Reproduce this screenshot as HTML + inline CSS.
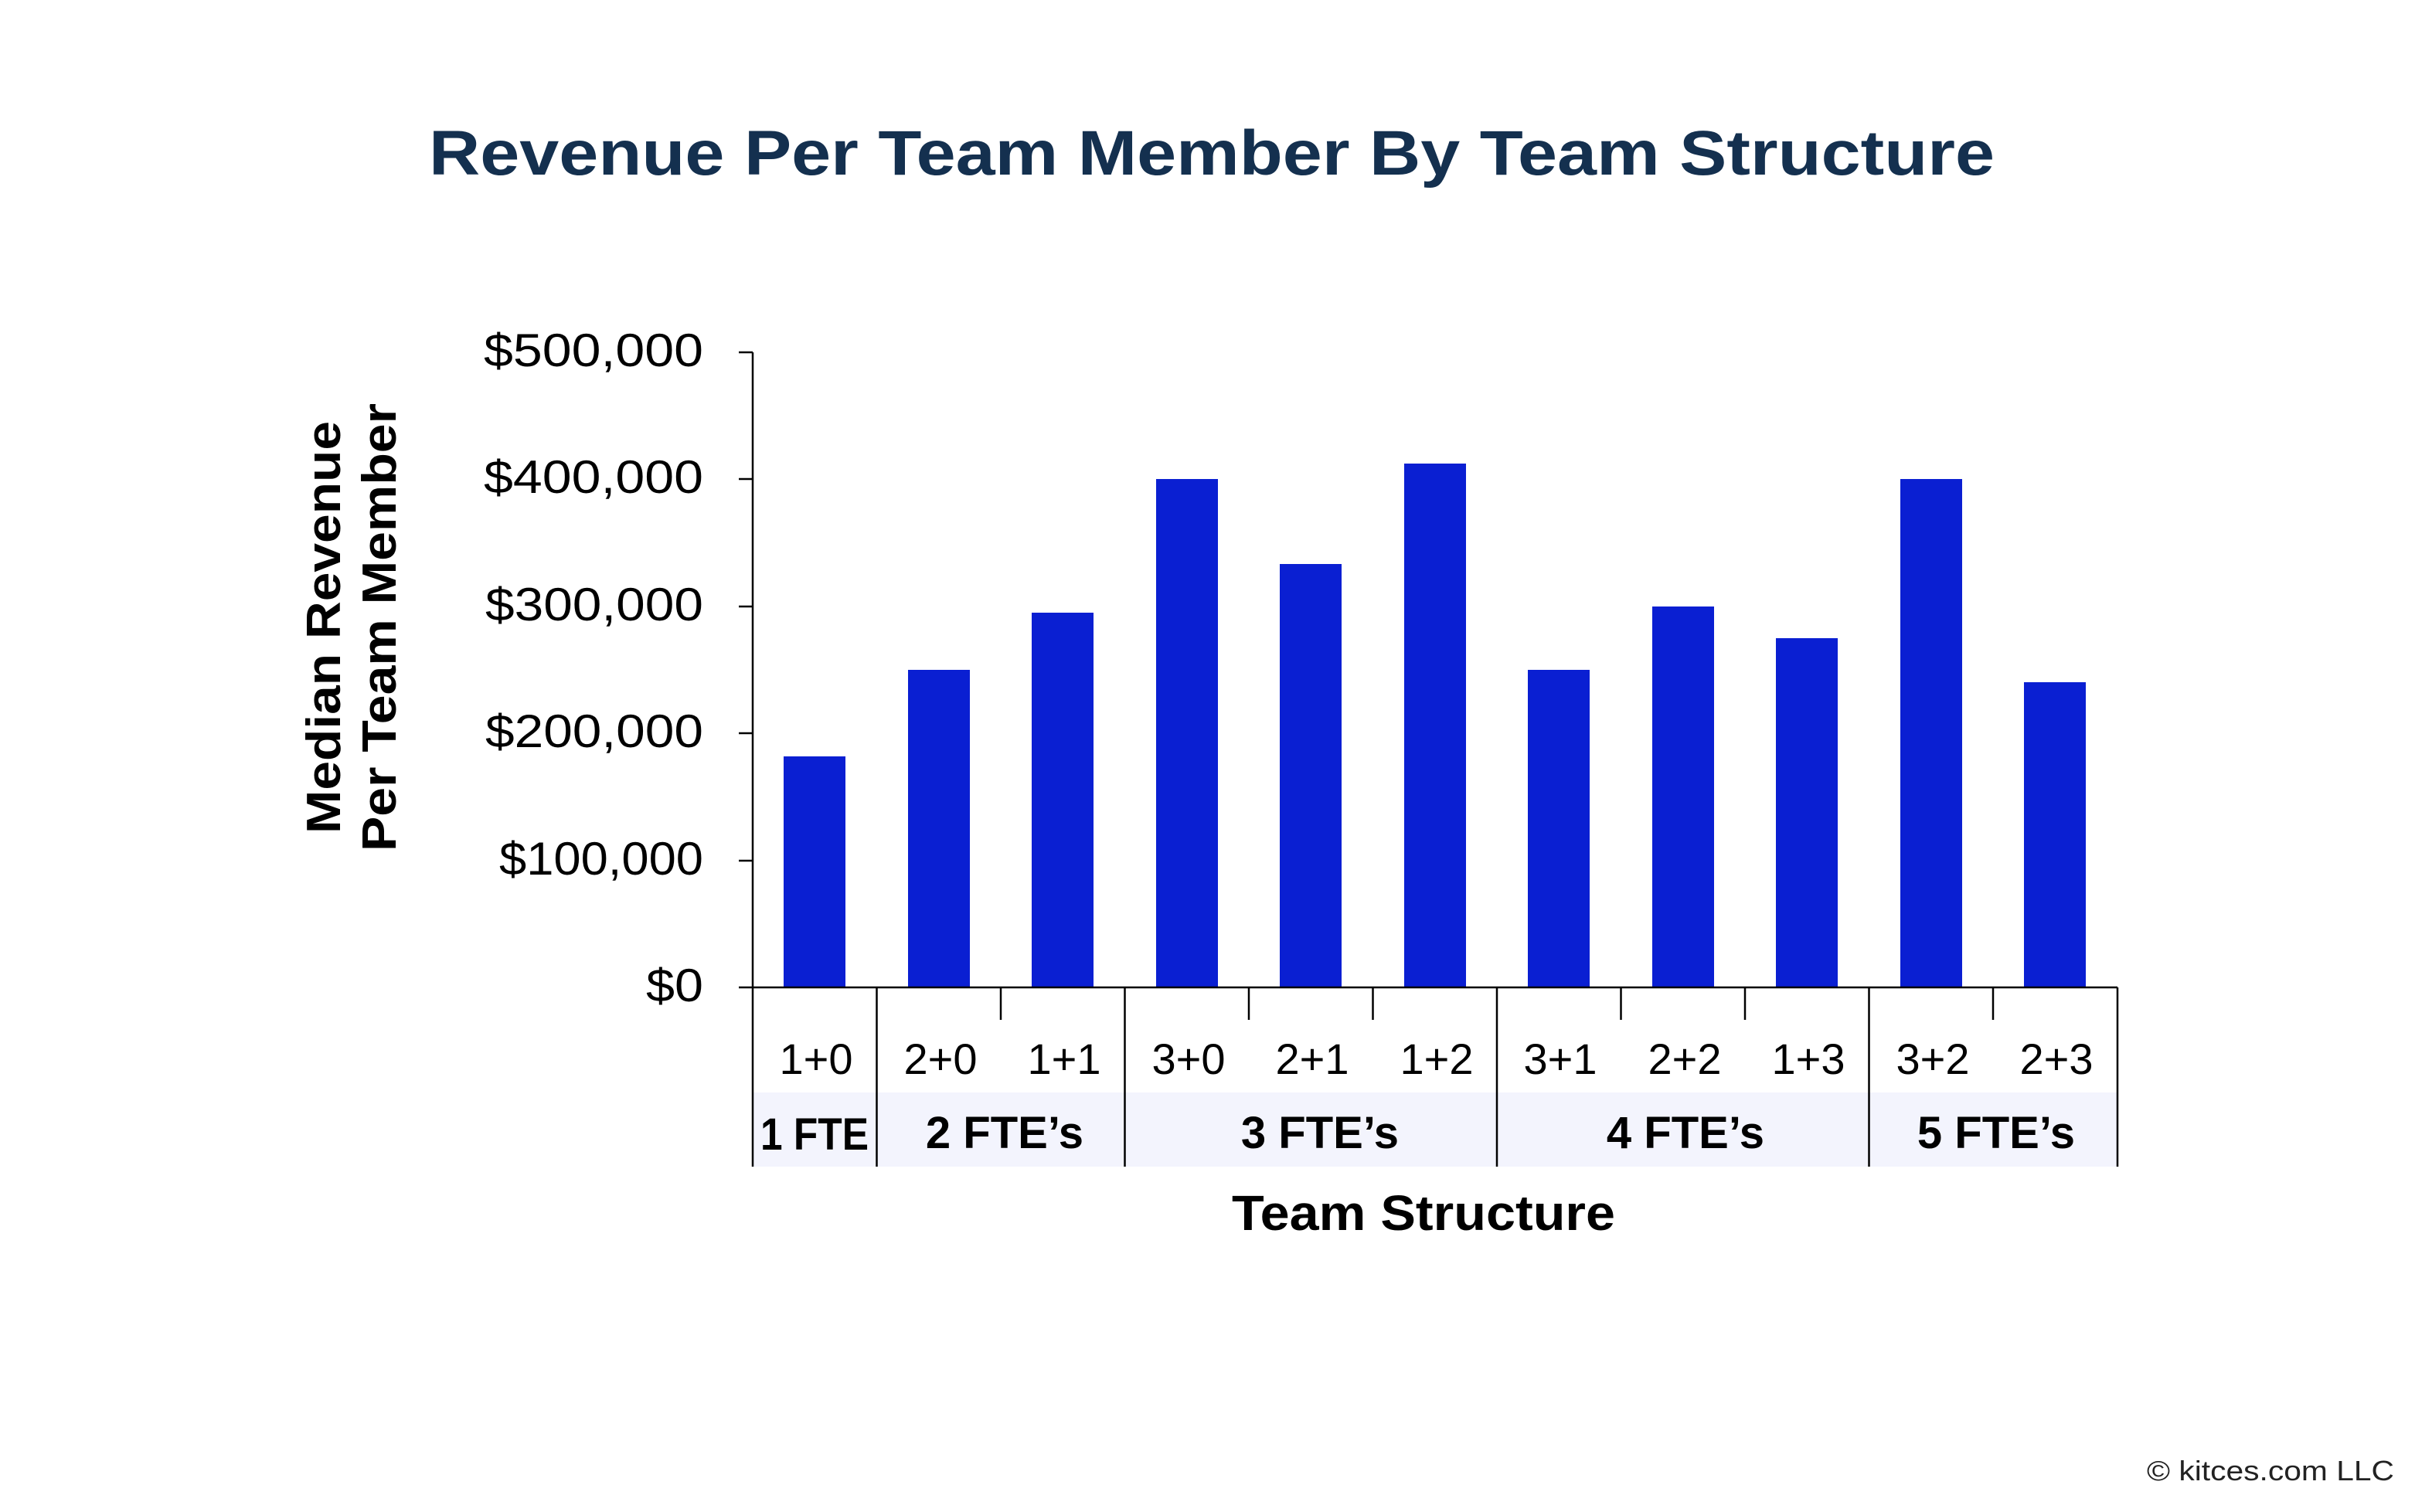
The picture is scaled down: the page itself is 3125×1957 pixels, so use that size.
<!DOCTYPE html>
<html><head><meta charset="utf-8"><style>
html,body{margin:0;padding:0;background:#fff}
svg{display:block}
</style></head><body>
<svg width="3125" height="1957" viewBox="0 0 3125 1957" xmlns="http://www.w3.org/2000/svg" font-family="Liberation Sans, sans-serif">
<rect width="3125" height="1957" fill="#fff"/>
<text x="1568" y="226" text-anchor="middle" font-size="82" fill="#14304f" font-weight="bold" textLength="2026" lengthAdjust="spacingAndGlyphs">Revenue Per Team Member By Team Structure</text>
<rect x="974" y="1414" width="1766" height="96" fill="#f3f4fd"/>
<g fill="#0a1fd2">
<rect x="1014" y="979" width="80" height="299"/>
<rect x="1175" y="867" width="80" height="411"/>
<rect x="1335" y="793" width="80" height="485"/>
<rect x="1496" y="620" width="80" height="658"/>
<rect x="1656" y="730" width="80" height="548"/>
<rect x="1817" y="600" width="80" height="678"/>
<rect x="1977" y="867" width="80" height="411"/>
<rect x="2138" y="785" width="80" height="493"/>
<rect x="2298" y="826" width="80" height="452"/>
<rect x="2459" y="620" width="80" height="658"/>
<rect x="2619" y="883" width="80" height="395"/>
</g>
<g stroke="#000" stroke-width="2.5">
<line x1="974" y1="456" x2="974" y2="1510"/>
<line x1="956" y1="1278" x2="2740" y2="1278"/>
<line x1="956" y1="456" x2="974" y2="456"/>
<line x1="956" y1="620" x2="974" y2="620"/>
<line x1="956" y1="785" x2="974" y2="785"/>
<line x1="956" y1="949" x2="974" y2="949"/>
<line x1="956" y1="1114" x2="974" y2="1114"/>
<line x1="1134.5" y1="1278" x2="1134.5" y2="1510"/>
<line x1="1455.5" y1="1278" x2="1455.5" y2="1510"/>
<line x1="1937" y1="1278" x2="1937" y2="1510"/>
<line x1="2418.5" y1="1278" x2="2418.5" y2="1510"/>
<line x1="2740" y1="1278" x2="2740" y2="1510"/>
<line x1="1295" y1="1278" x2="1295" y2="1320"/>
<line x1="1616" y1="1278" x2="1616" y2="1320"/>
<line x1="1776.5" y1="1278" x2="1776.5" y2="1320"/>
<line x1="2097.5" y1="1278" x2="2097.5" y2="1320"/>
<line x1="2258" y1="1278" x2="2258" y2="1320"/>
<line x1="2579" y1="1278" x2="2579" y2="1320"/>
</g>
<g font-size="60" fill="#000">
<text x="626" y="474" textLength="284" lengthAdjust="spacingAndGlyphs">$500,000</text>
<text x="626" y="638" textLength="284" lengthAdjust="spacingAndGlyphs">$400,000</text>
<text x="628" y="803" textLength="282" lengthAdjust="spacingAndGlyphs">$300,000</text>
<text x="628" y="967" textLength="282" lengthAdjust="spacingAndGlyphs">$200,000</text>
<text x="646" y="1132" textLength="264" lengthAdjust="spacingAndGlyphs">$100,000</text>
<text x="836" y="1296" textLength="74" lengthAdjust="spacingAndGlyphs">$0</text>
</g>
<g font-size="56" text-anchor="middle" fill="#000">
<text x="1056" y="1390">1+0</text>
<text x="1217" y="1390">2+0</text>
<text x="1377" y="1390">1+1</text>
<text x="1538" y="1390">3+0</text>
<text x="1698" y="1390">2+1</text>
<text x="1859" y="1390">1+2</text>
<text x="2019" y="1390">3+1</text>
<text x="2180" y="1390">2+2</text>
<text x="2340" y="1390">1+3</text>
<text x="2501" y="1390">3+2</text>
<text x="2661" y="1390">2+3</text>
</g>
<g font-size="58" font-weight="bold" text-anchor="middle" fill="#000">
<text x="1054" y="1488" textLength="140" lengthAdjust="spacingAndGlyphs">1 FTE</text>
<text x="1300" y="1486">2 FTE’s</text>
<text x="1708" y="1486">3 FTE’s</text>
<text x="2181" y="1486">4 FTE’s</text>
<text x="2583" y="1486">5 FTE’s</text>
</g>
<text x="1842" y="1592" font-size="64" font-weight="bold" text-anchor="middle" fill="#000" textLength="496" lengthAdjust="spacingAndGlyphs">Team Structure</text>
<g font-size="62" font-weight="bold" text-anchor="middle" fill="#000">
<text transform="translate(440,812) rotate(-90)" textLength="534" lengthAdjust="spacingAndGlyphs">Median Revenue</text>
<text transform="translate(512,812) rotate(-90)" textLength="580" lengthAdjust="spacingAndGlyphs">Per Team Member</text>
</g>
<text x="3098" y="1916" font-size="36" text-anchor="end" fill="#222" textLength="320" lengthAdjust="spacingAndGlyphs">© kitces.com LLC</text>
</svg>
</body></html>
